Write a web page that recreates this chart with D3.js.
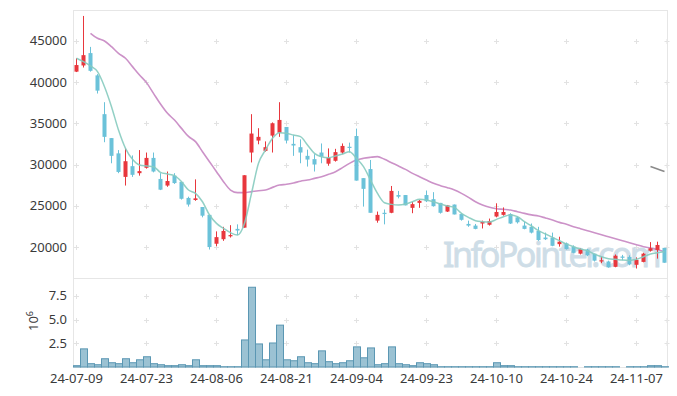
<!DOCTYPE html>
<html>
<head>
<meta charset="utf-8">
<script src="https://cdn.jsdelivr.net/npm/d3@7"></script>
<style>
  body { margin: 0; background: #fff; }
  svg { display: block; font-family: "Noto Sans", sans-serif; }
</style>
</head>
<body>
<div id="chart"></div>
<script>
// trading days
const dates = [
  "24-07-09","24-07-10","24-07-11","24-07-12","24-07-15","24-07-16","24-07-17","24-07-18","24-07-19","24-07-22",
  "24-07-23","24-07-24","24-07-25","24-07-26","24-07-29","24-07-30","24-07-31","24-08-01","24-08-02","24-08-05",
  "24-08-06","24-08-07","24-08-08","24-08-09","24-08-12","24-08-13","24-08-14","24-08-16","24-08-19","24-08-20",
  "24-08-21","24-08-22","24-08-23","24-08-26","24-08-27","24-08-28","24-08-29","24-08-30","24-09-02","24-09-03",
  "24-09-04","24-09-05","24-09-06","24-09-09","24-09-10","24-09-11","24-09-12","24-09-13","24-09-19","24-09-20",
  "24-09-23","24-09-24","24-09-25","24-09-26","24-09-27","24-09-30","24-10-02","24-10-04","24-10-07","24-10-08",
  "24-10-10","24-10-11","24-10-14","24-10-15","24-10-16","24-10-17","24-10-18","24-10-21","24-10-22","24-10-23",
  "24-10-24","24-10-25","24-10-28","24-10-29","24-10-30","24-10-31","24-11-01","24-11-04","24-11-05","24-11-06",
  "24-11-07","24-11-08","24-11-11","24-11-12","24-11-13"
];

const open = [
  41250,42000,43500,40800,36100,33200,31350,28500,29800,28950,
  29600,30800,28250,27450,28650,27900,25950,25700,24850,23900,
  20400,20950,21300,22200,22350,31450,32900,31650,33500,33850,
  34550,32500,32100,31050,30650,31450,30100,30450,31450,32150,
  33450,28350,29450,23200,24150,24150,26300,26300,24750,25350,
  26300,25800,25350,24300,25150,24000,22800,22600,22850,22700,
  23700,23900,24000,23600,22600,22450,21950,21150,21150,20350,
  20450,20050,19200,19700,19200,18250,18250,17600,18850,18800,
  17850,18200,19550,19650,19900
];
const high = [
  42870,48000,44250,40950,37550,33200,31750,31950,31100,31750,
  31450,31450,28950,29150,28950,27900,26100,28200,24850,23900,
  21900,22450,22650,22750,28700,36100,34400,32800,35100,37550,
  34550,33550,33050,31800,31250,32550,31950,31900,32550,32650,
  34350,28350,30550,24300,24550,27400,26800,26300,25500,25700,
  26850,26650,25350,25100,25150,24100,23200,22800,23200,23450,
  25300,24800,24100,23700,23050,22850,22450,21750,21750,21250,
  20550,20200,19850,19800,19200,18850,18350,19100,19050,19000,
  18750,19300,20600,20650,19900
];
const low = [
  41200,41750,41250,38600,32700,30150,28950,27450,28500,28650,
  29500,29050,26900,27300,27650,25750,24900,25600,23600,19700,
  20100,20750,21150,21450,22350,30250,32450,31550,31450,33350,
  32550,31050,30150,29750,29150,30150,29850,30350,31250,31450,
  28050,24900,24150,22950,22750,24100,25900,25050,24100,24750,
  25450,24900,24050,24250,23950,23200,22450,22150,22250,22600,
  23600,23800,22800,22850,22150,21650,20750,20850,20100,20050,
  19700,19250,19100,18900,18250,18050,17500,17550,18400,17800,
  17400,18150,19450,18600,18100
];
const close = [
  42050,43250,41350,38950,33350,31050,29100,30400,28750,29200,
  30800,29150,26950,28000,27750,25850,25150,25900,23800,20000,
  21200,21950,21450,22000,28700,33750,33350,32100,35000,35400,
  32900,32300,31450,30600,30000,30950,30800,31500,32250,32050,
  28050,27050,24150,23900,24000,26800,26100,25050,25200,25600,
  25550,24950,24150,25050,23950,23300,22600,22200,23050,23150,
  24250,24250,22850,23000,22200,21750,20850,20950,20150,20650,
  19750,19300,19750,19000,18350,18400,17550,18950,18700,17900,
  18450,19200,19850,20250,18100
];
const volume = [
  140000,1910000,350000,240000,870000,450000,350000,870000,450000,760000,
  1080000,350000,240000,140000,140000,240000,140000,760000,140000,140000,
  140000,30000,30000,30000,2850000,8400000,2430000,760000,2530000,4410000,
  760000,660000,1080000,450000,350000,1700000,560000,350000,450000,660000,
  2120000,970000,2010000,240000,350000,2120000,350000,240000,140000,450000,
  350000,240000,30000,30000,30000,30000,30000,30000,30000,30000,
  450000,140000,140000,30000,30000,30000,30000,30000,30000,30000,
  30000,30000,null,30000,30000,30000,30000,30000,null,30000,
  30000,30000,140000,140000,30000
];
const ma5 = [
  42870,42460,41940,41250,39430,37010,34180,31960,30630,29940,
  29820,29740,29050,28850,28650,27920,26910,26500,25490,23880,
  22870,22260,21740,21450,22870,26500,30140,31760,33170,33860,
  33780,33570,33370,32360,31350,30950,30830,31030,31270,31550,
  30750,29740,28120,26500,25370,25170,25090,25210,25490,25780,
  25700,25490,25210,24970,24810,24080,23600,23190,23070,23030,
  23350,23680,23880,23680,23070,22550,21980,21580,21170,20770,
  20360,20040,19760,19560,19150,18830,18590,18510,18420,18380,
  18510,18830,19150,19310,19430
];
const ma20 = [
  null,null,45900,45290,44970,44280,43470,42870,41860,40850,
  39920,38620,37330,36200,35390,34380,33400,32770,31550,30340,
  29130,27920,26910,26590,26590,26710,26830,26910,27230,27510,
  27600,27760,27980,28120,28320,28520,28810,29130,29620,30140,
  30540,30750,30870,30950,30630,30220,29820,29410,28930,28520,
  28120,27720,27430,27190,26910,26500,26020,25490,25090,24810,
  24650,24570,24480,24280,24080,23900,23760,23520,23270,22990,
  22750,22460,22220,21980,21740,21490,21250,21010,20770,20530,
  20280,20040,19880,19680,19430
];
const ma60 = new Array(82).fill(null).concat([29750, 29450, 29150]);

const priceTicks = [20000, 25000, 30000, 35000, 40000, 45000];
const volTicks = [2500000, 5000000, 7500000];
const dateTicks = ["24-07-09","24-07-23","24-08-06","24-08-21","24-09-04","24-09-23","24-10-10","24-10-24","24-11-07"];

const width = 677, height = 396;
const plotLeft = 73, plotRight = 668, plotTop = 10, split = 278, plotBottom = 367;
const upColor = "#e8373d", downColor = "#6bc2d9";
const gridColor = "#e2e2e2", frameColor = "#e6e6e6", textColor = "#3a3a3a";

const svg = d3.select("#chart").append("svg")
  .attr("width", width)
  .attr("height", height);

const x = d3.scaleBand().domain(dates).range([plotLeft, plotRight]).padding(0);
const cx = (d) => x(d) + x.bandwidth() / 2;
const y = d3.scaleLinear().domain([16250, 48720]).range([split, plotTop]);
const yv = d3.scaleLinear().domain([0, 9375000]).range([plotBottom, split]);

const data = dates.map((d, i) => ({
  date: d, o: open[i], h: high[i], l: low[i], c: close[i],
  v: volume[i], m5: ma5[i], m20: ma20[i], m60: ma60[i]
}));

// grid crosses
const gridX = dateTicks.map(cx).concat([plotRight - 1]);
function crosses(g, xs, ys) {
  xs.forEach((gx) => ys.forEach((gy) => {
    g.append("line").attr("x1", gx - 2.5).attr("x2", gx + 2.5).attr("y1", gy).attr("y2", gy);
    g.append("line").attr("x1", gx).attr("x2", gx).attr("y1", gy - 2.5).attr("y2", gy + 2.5);
  }));
}
const grid = svg.append("g").attr("stroke", gridColor).attr("stroke-width", 1);
crosses(grid, gridX, priceTicks.map((t) => Math.round(y(t)) + 0.5));
crosses(grid, gridX, volTicks.map((t) => Math.round(yv(t)) + 0.5));

// frames
const frame = svg.append("g").attr("fill", "none").attr("stroke", frameColor);
frame.append("rect").attr("x", plotLeft + 0.5).attr("y", plotTop + 0.5)
  .attr("width", plotRight - plotLeft - 1).attr("height", split - plotTop);
frame.append("rect").attr("x", plotLeft + 0.5).attr("y", split + 0.5)
  .attr("width", plotRight - plotLeft - 1).attr("height", plotBottom - split);

// watermark
svg.append("text")
  .attr("x", 443).attr("y", 267)
  .attr("font-size", 34)
  .attr("letter-spacing", -2.5)
  .attr("fill", "#c6d8e3")
  .attr("stroke", "#c6d8e3")
  .attr("stroke-width", 0.8)
  .attr("opacity", 0.85)
  .text("InfoPointer.com");

// moving averages
const lineOf = (key) => d3.line()
  .defined((d) => d[key] != null)
  .x((d) => cx(d.date))
  .y((d) => y(d[key]))
  .curve(d3.curveMonotoneX);

svg.append("path").datum(data).attr("fill", "none")
  .attr("stroke", "#cc92c8").attr("stroke-width", 1.6)
  .attr("d", lineOf("m20"));
svg.append("path").datum(data).attr("fill", "none")
  .attr("stroke", "#8a8a8a").attr("stroke-width", 1.6)
  .attr("d", lineOf("m60"));

// candles
const candle = svg.append("g").selectAll("g").data(data).enter().append("g")
  .attr("fill", (d) => (d.c >= d.o ? upColor : downColor))
  .attr("stroke", (d) => (d.c >= d.o ? upColor : downColor));

candle.append("line")
  .attr("x1", (d) => cx(d.date)).attr("x2", (d) => cx(d.date))
  .attr("y1", (d) => y(d.h)).attr("y2", (d) => y(d.l))
  .attr("stroke-width", 1);

candle.append("rect")
  .attr("stroke", "none")
  .attr("x", (d) => cx(d.date) - 2)
  .attr("width", 4)
  .attr("y", (d) => y(Math.max(d.o, d.c)))
  .attr("height", (d) => Math.max(1.2, Math.abs(y(d.o) - y(d.c))));

svg.append("path").datum(data).attr("fill", "none")
  .attr("stroke", "#86cbbf").attr("stroke-opacity", 0.9).attr("stroke-width", 1.5)
  .attr("d", lineOf("m5"));

// volume
svg.append("g").selectAll("rect")
  .data(data.filter((d) => d.v != null))
  .enter().append("rect")
  .attr("x", (d) => x(d.date) + 0.5)
  .attr("width", x.bandwidth())
  .attr("y", (d) => yv(d.v))
  .attr("height", (d) => plotBottom - yv(d.v))
  .attr("fill", "#9bc2d3")
  .attr("stroke", "#5b97b3")
  .attr("stroke-width", 1);

// axes text
const yAxis = svg.append("g").attr("fill", textColor).attr("font-size", 13).attr("text-anchor", "end");
yAxis.selectAll(".p").data(priceTicks).enter().append("text")
  .attr("x", 67).attr("y", (d) => y(d)).attr("dy", "0.35em").text((d) => d);
yAxis.selectAll(".v").data(volTicks).enter().append("text")
  .attr("x", 67).attr("y", (d) => yv(d)).attr("dy", "0.35em").text((d) => (d / 1e6).toFixed(1));

const exp = svg.append("text")
  .attr("transform", "translate(38,321) rotate(-90)")
  .attr("fill", textColor).attr("font-size", 13).attr("text-anchor", "middle");
exp.append("tspan").text("10");
exp.append("tspan").attr("dy", -5).attr("font-size", 9).text("6");

svg.append("g").attr("fill", textColor).attr("font-size", 13).attr("text-anchor", "middle")
  .selectAll("text").data(dateTicks).enter().append("text")
  .attr("x", (d) => cx(d)).attr("y", 383).text((d) => d);
</script>
</body>
</html>
